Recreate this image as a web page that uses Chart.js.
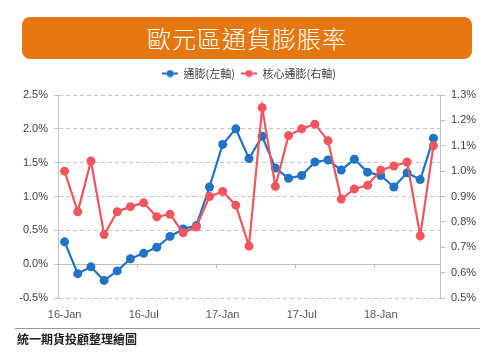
<!DOCTYPE html>
<html>
<head>
<meta charset="utf-8">
<script src="https://cdn.jsdelivr.net/npm/chart.js@4.4.1/dist/chart.umd.min.js"></script>
<style>
  body { margin: 0; background: #fff; width: 500px; height: 363px; position: relative; overflow: hidden; font-family: "Noto Sans CJK TC", sans-serif; }
  #wrap { position: absolute; left: 0; top: 0; width: 500px; height: 363px; }
  .title { position: absolute; left: 22px; top: 17px; width: 450px; height: 42px; background: #e5770f; border-radius: 8px; color: #fff; font-size: 24px; font-weight: 300; line-height: 42px; text-align: center; letter-spacing: 1px; }
  .foot-line { position: absolute; left: 15px; top: 328px; width: 465px; height: 1px; background: #9a9a9a; }
  .foot { position: absolute; left: 17px; top: 330px; font-size: 12px; font-weight: bold; color: #222; }
</style>
</head>
<body>
<div id="wrap"><canvas id="chart" width="500" height="363"></canvas></div>
<div class="title">歐元區通貨膨脹率</div>
<div class="foot-line"></div>
<div class="foot">統一期貨投顧整理繪圖</div>
<script>
// monthly categories, Jan 2016 - May 2018
const months = [
  '16-Jan', '16-Feb', '16-Mar', '16-Apr', '16-May', '16-Jun',
  '16-Jul', '16-Aug', '16-Sep', '16-Oct', '16-Nov', '16-Dec',
  '17-Jan', '17-Feb', '17-Mar', '17-Apr', '17-May', '17-Jun',
  '17-Jul', '17-Aug', '17-Sep', '17-Oct', '17-Nov', '17-Dec',
  '18-Jan', '18-Feb', '18-Mar', '18-Apr', '18-May'
];
const shownLabels = ['16-Jan', '16-Jul', '17-Jan', '17-Jul', '18-Jan'];

// 通膨 (left axis, %)
const cpi = [
  0.33, -0.14, -0.04, -0.24, -0.10, 0.08, 0.16, 0.25, 0.41, 0.52,
  0.57, 1.14, 1.77, 2.00, 1.56, 1.89, 1.42, 1.27, 1.31, 1.51,
  1.54, 1.39, 1.55, 1.36, 1.31, 1.14, 1.35, 1.25, 1.86
];
// 核心通膨 (right axis, %)
const coreCpi = [
  1.00, 0.84, 1.04, 0.75, 0.84, 0.86, 0.875, 0.82, 0.83, 0.757,
  0.78, 0.90, 0.92, 0.866, 0.705, 1.25, 0.94, 1.14, 1.167, 1.185,
  1.12, 0.89, 0.93, 0.944, 1.004, 1.02, 1.036, 0.745, 1.10
];

const seriesNames = ['通膨(左軸)', '核心通膨(右軸)'];
const blue = '#1f74c6';
const red = '#f2555e';
const textColor = '#404040';
const gridColor = '#c6c6c6';
const axisColor = '#bfbfbf';

function legendMarker(color) {
  const c = document.createElement('canvas');
  c.width = 16; c.height = 8;
  const g = c.getContext('2d');
  g.strokeStyle = color; g.lineWidth = 2;
  g.beginPath(); g.moveTo(0, 4); g.lineTo(16, 4); g.stroke();
  g.fillStyle = color;
  g.beginPath(); g.arc(8, 4, 3.5, 0, Math.PI * 2); g.fill();
  return c;
}

// solid 0% line with category-boundary tick marks every 6 months
const zeroLine = {
  id: 'zeroLine',
  beforeDatasetsDraw(chart) {
    const { ctx, chartArea, scales: { x, y } } = chart;
    const y0 = Math.round(y.getPixelForValue(0)) + 0.5;
    ctx.save();
    ctx.strokeStyle = axisColor;
    ctx.lineWidth = 1;
    ctx.beginPath();
    ctx.moveTo(chartArea.left, y0);
    ctx.lineTo(chartArea.right, y0);
    months.forEach((m, i) => {
      if (i > 0 && i % 6 === 0) {
        const px = Math.round((x.getPixelForValue(i - 1) + x.getPixelForValue(i)) / 2) + 0.5;
        ctx.moveTo(px, y0);
        ctx.lineTo(px, y0 + 4);
      }
    });
    ctx.stroke();
    ctx.restore();
  }
};

const legendHeight = {
  id: 'legendHeight',
  beforeInit(chart) {
    const fit = chart.legend.fit;
    chart.legend.fit = function () {
      fit.bind(chart.legend)();
      this.height = 33;
    };
  }
};

new Chart(document.getElementById('chart'), {
  type: 'line',
  data: {
    labels: months,
    datasets: [
      {
        label: seriesNames[0],
        data: cpi,
        yAxisID: 'y',
        borderColor: blue,
        backgroundColor: blue,
        borderWidth: 2.2,
        pointRadius: 4.5,
        pointBorderWidth: 0,
        pointBackgroundColor: blue,
        order: 2,
      },
      {
        label: seriesNames[1],
        data: coreCpi,
        yAxisID: 'y1',
        borderColor: red,
        backgroundColor: red,
        borderWidth: 2.2,
        pointRadius: 4.5,
        pointBorderWidth: 0,
        pointBackgroundColor: red,
        order: 1,
      },
    ],
  },
  options: {
    responsive: false,
    animation: false,
    layout: { padding: { top: 62, left: 12, right: 14, bottom: 45 } },
    plugins: {
      tooltip: { enabled: false },
      legend: {
        position: 'top',
        labels: {
          usePointStyle: true,
          pointStyleWidth: 16,
          padding: 6,
          color: textColor,
          font: { size: 11, family: '"Noto Sans CJK TC", sans-serif' },
          generateLabels() {
            return [
              { text: seriesNames[0], pointStyle: legendMarker(blue), fillStyle: blue, strokeStyle: blue, lineWidth: 0, hidden: false, datasetIndex: 0, fontColor: textColor },
              { text: seriesNames[1], pointStyle: legendMarker(red), fillStyle: red, strokeStyle: red, lineWidth: 0, hidden: false, datasetIndex: 1, fontColor: textColor },
            ];
          },
        },
      },
    },
    scales: {
      x: {
        offset: true,
        grid: { display: false, drawTicks: false },
        border: { display: false },
        afterFit(scale) { scale.height = 20; },
        ticks: {
          autoSkip: false,
          maxRotation: 0,
          padding: 10,
          color: '#555555',
          font: { size: 11, family: '"Liberation Sans", sans-serif' },
          callback(value, index) {
            const m = months[index];
            return shownLabels.includes(m) ? m : '';
          },
        },
      },
      y: {
        position: 'left',
        min: -0.5,
        max: 2.5,
        afterFit(scale) { scale.width = 46; },
        ticks: {
          stepSize: 0.5,
          padding: 6,
          color: textColor,
          font: { size: 11, family: '"Liberation Sans", sans-serif' },
          callback: (v) => v.toFixed(1) + '%',
        },
        grid: { color: gridColor, lineWidth: 1, tickLength: 4, tickColor: axisColor },
        border: { display: true, color: axisColor, dash: [4, 3] },
      },
      y1: {
        position: 'right',
        min: 0.5,
        max: 1.3,
        afterFit(scale) { scale.width = 46; },
        ticks: {
          stepSize: 0.1,
          padding: 6,
          color: textColor,
          font: { size: 11, family: '"Liberation Sans", sans-serif' },
          callback: (v) => v.toFixed(1) + '%',
        },
        grid: { drawOnChartArea: false, tickLength: 5, tickColor: axisColor },
        border: { display: true, color: axisColor },
      },
    },
  },
  plugins: [zeroLine, legendHeight],
});
</script>
</body>
</html>
